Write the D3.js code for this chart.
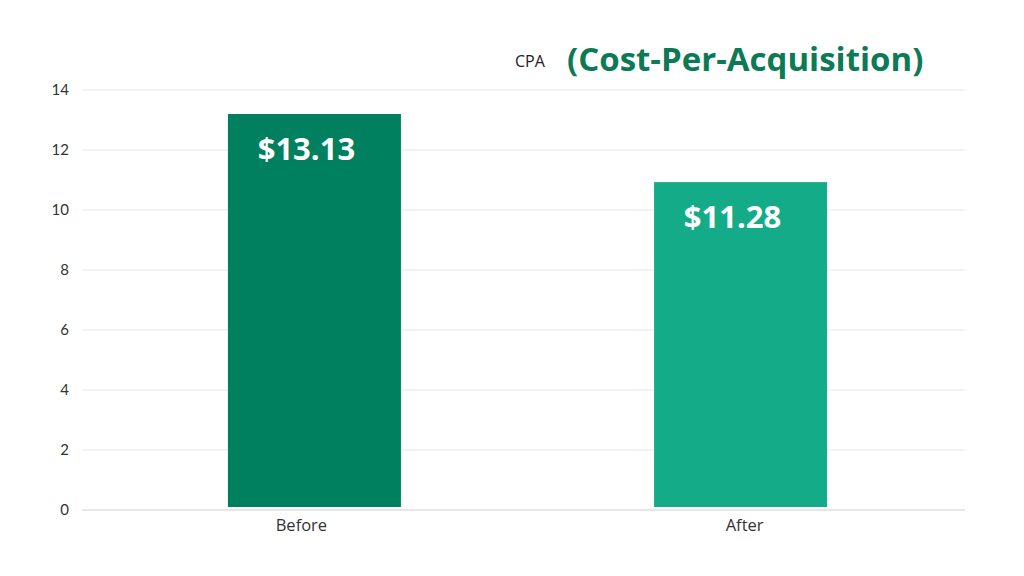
<!DOCTYPE html>
<html><head><meta charset="utf-8">
<script src="https://cdn.jsdelivr.net/npm/d3@7"></script>
<style>body{margin:0;background:#fff;}svg{display:block;}</style>
</head><body>
<svg id="c" width="1024" height="576"></svg>
<script>
const categories = ["Before", "After"];
const values = [13.2, 10.93];
const valueLabels = ["$13.13", "$11.28"];
const yTicks = [0, 2, 4, 6, 8, 10, 12, 14];
const colors = ["#00805E", "#14AC88"];

const svg = d3.select("#c");
const plotLeft = 82, plotRight = 965, plotTop = 90, plotBottom = 510;

const y = d3.scaleLinear().domain([0, 14]).range([plotBottom, plotTop]);
const x = d3.scaleBand().domain(categories).range([plotLeft, plotRight])
  .paddingInner(0.594).paddingOuter(0.333);

// gridlines
svg.append("g").selectAll("line").data(yTicks).join("line")
  .attr("x1", plotLeft).attr("x2", plotRight)
  .attr("y1", d => y(d)).attr("y2", d => y(d))
  .attr("stroke", d => d === 0 ? "#cfcfcf" : "#e8e8e8").attr("stroke-width", 1.2);

// y labels
svg.append("g").selectAll("text").data(yTicks).join("text")
  .attr("x", 69).attr("y", d => y(d) + 5)
  .attr("text-anchor", "end")
  .attr("font-family", "Lato, 'Open Sans', sans-serif").attr("font-size", 15)
  .attr("fill", "#333").text(d => d);

// bars
svg.append("g").selectAll("rect").data(values).join("rect")
  .attr("x", (d, i) => x(categories[i]) + 4)
  .attr("width", x.bandwidth())
  .attr("y", d => y(d))
  .attr("height", d => y(0) - 3 - y(d))
  .attr("fill", (d, i) => colors[i]);

// value labels
svg.append("g").selectAll("text").data(values).join("text")
  .attr("x", (d, i) => x(categories[i]) + 4 + x.bandwidth() / 2 - 8)
  .attr("y", d => y(d) + 46)
  .attr("text-anchor", "middle")
  .attr("font-family", "'Open Sans', sans-serif").attr("font-weight", "bold")
  .attr("font-size", 31).attr("fill", "#fff")
  .text((d, i) => valueLabels[i]);

// x labels
svg.append("g").selectAll("text").data(categories).join("text")
  .attr("x", (d, i) => x(d) + x.bandwidth() / 2 + (i === 0 ? -9 : 8))
  .attr("y", 531)
  .attr("text-anchor", "middle")
  .attr("font-family", "'Open Sans', sans-serif").attr("font-size", 16.5)
  .attr("fill", "#333").text(d => d);

// title
svg.append("text").attr("x", 515).attr("y", 67)
  .attr("font-family", "'Open Sans', sans-serif").attr("font-size", 16)
  .attr("fill", "#222").text("CPA");
svg.append("text").attr("x", 567).attr("y", 71)
  .attr("font-family", "'Open Sans', sans-serif").attr("font-weight", "bold")
  .attr("font-size", 33).attr("fill", "#0B7A55").text("(Cost-Per-Acquisition)");
</script>
</body></html>
